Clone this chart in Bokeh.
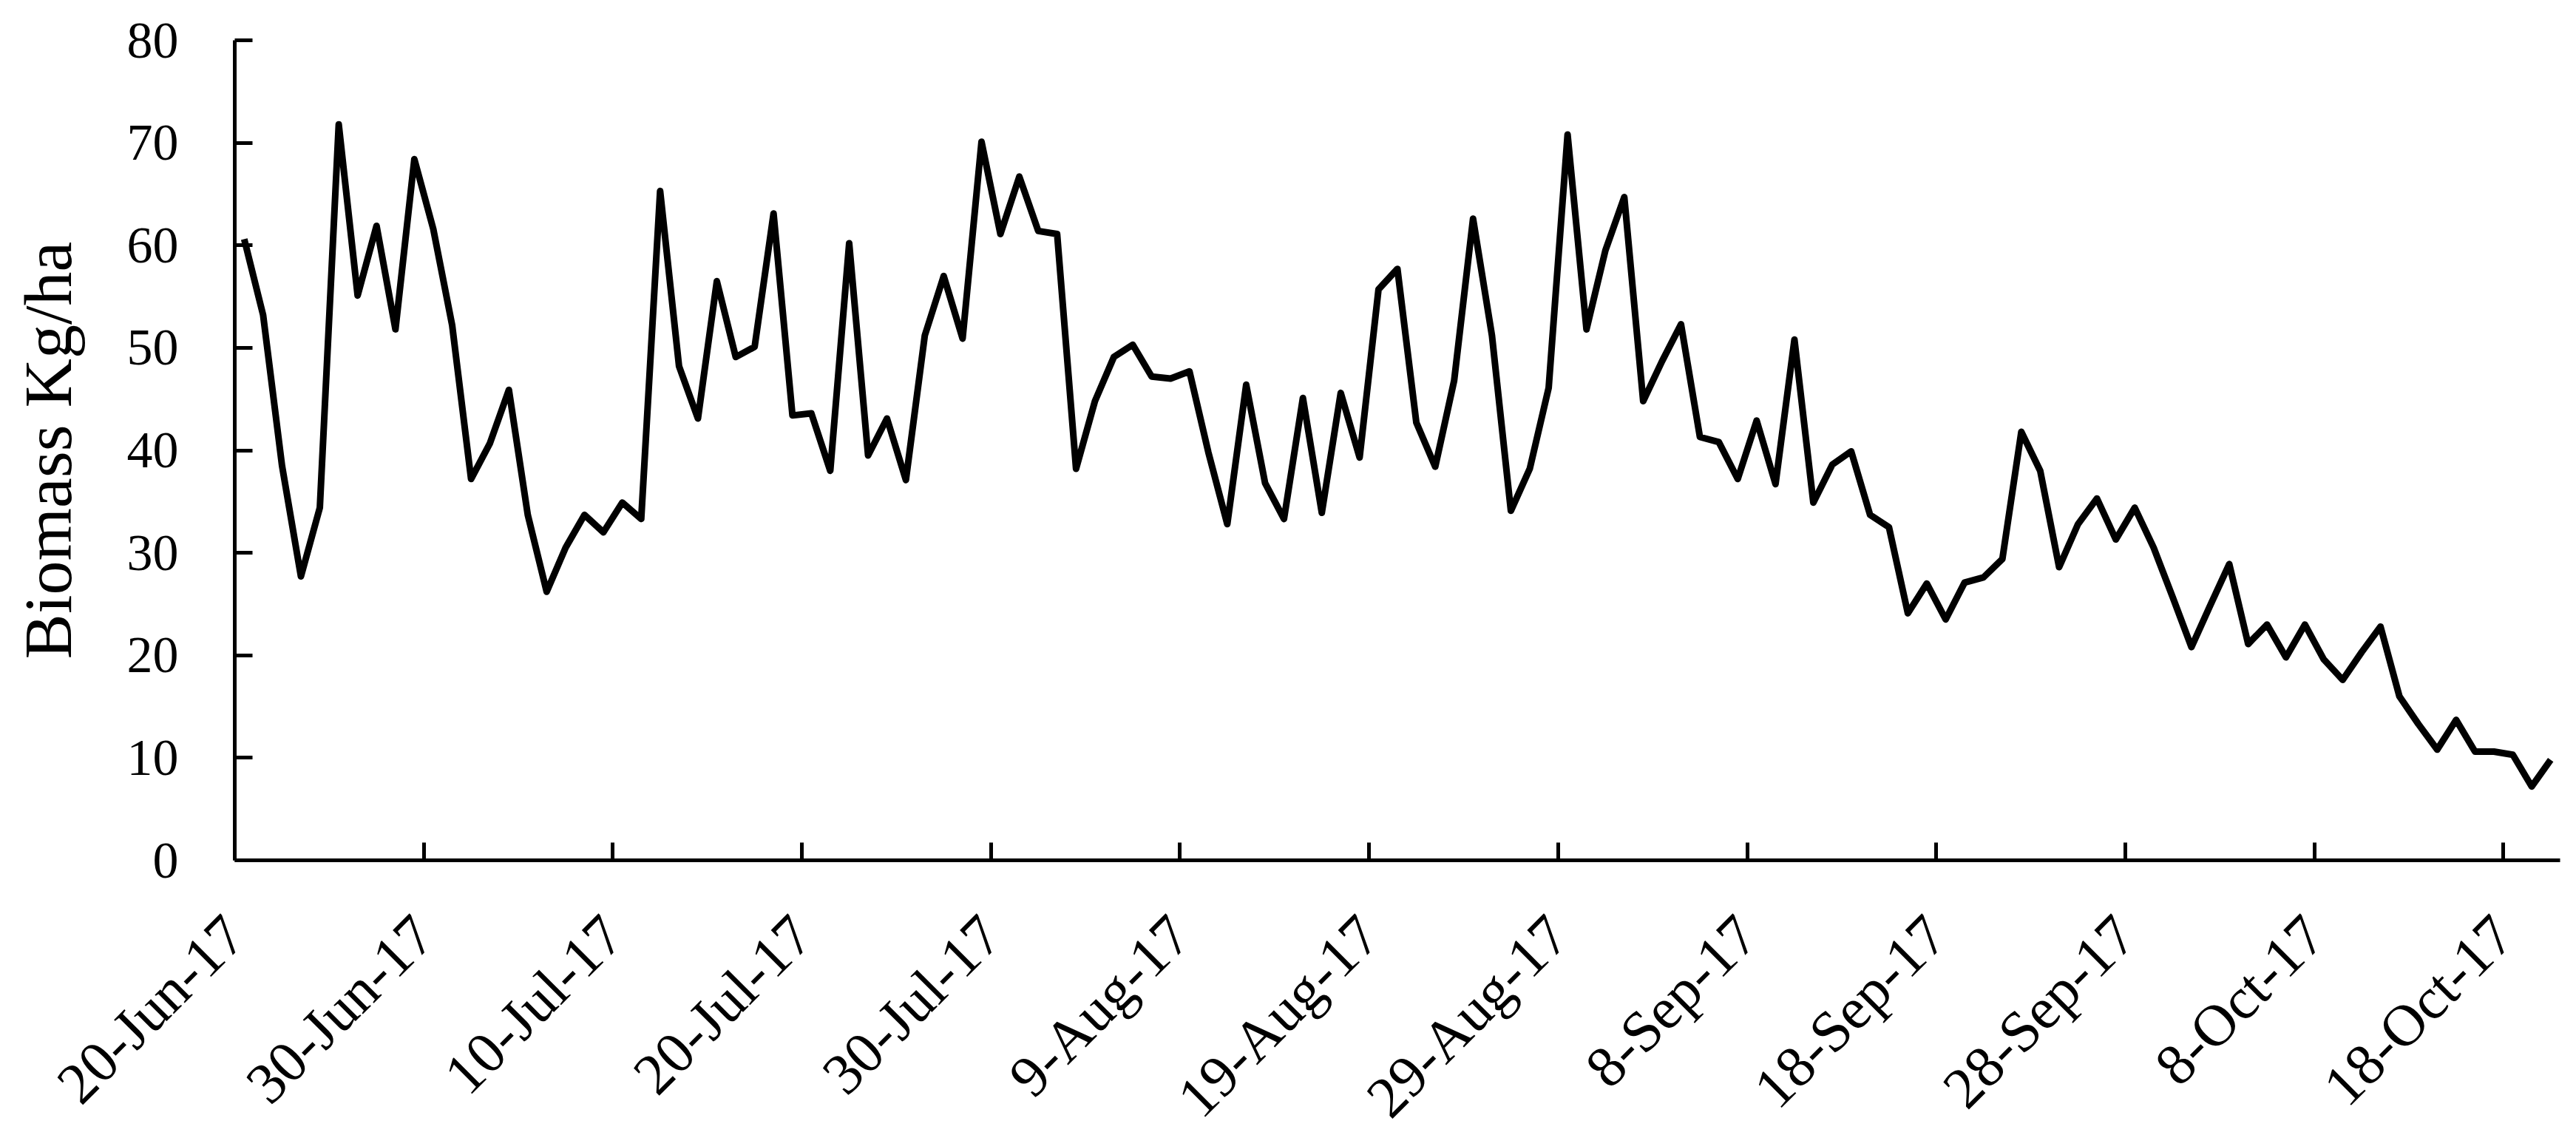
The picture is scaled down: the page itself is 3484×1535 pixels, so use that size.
import pandas as pd
from bokeh.plotting import figure
from bokeh.models import FixedTicker, Range1d, ColumnDataSource
from bokeh.embed import file_html
from bokeh.resources import INLINE

start_date = "20-Jun-17"

biomass = [
    60.6, 53.2, 38.5, 27.7, 34.4, 71.8, 55.1, 61.9, 51.8, 68.4,
    61.6, 52.2, 37.2, 40.7, 45.9, 33.7, 26.2, 30.5, 33.7, 32.0,
    34.9, 33.3, 65.3, 48.2, 43.1, 56.5, 49.1, 50.1, 63.1, 43.4,
    43.6, 38.0, 60.2, 39.5, 43.1, 37.1, 51.2, 57.0, 50.9, 70.1,
    61.1, 66.7, 61.4, 61.1, 38.2, 44.8, 49.1, 50.3, 47.2, 47.0,
    47.7, 39.8, 32.8, 46.4, 36.8, 33.3, 45.1, 33.9, 45.6, 39.3,
    55.7, 57.7, 42.7, 38.4, 46.8, 62.6, 51.2, 34.1, 38.2, 46.1,
    70.8, 51.8, 59.5, 64.7, 44.8, 48.7, 52.3, 41.3, 40.8, 37.2,
    42.9, 36.7, 50.8, 34.9, 38.6, 39.9, 33.7, 32.5, 24.1, 27.0,
    23.5, 27.1, 27.6, 29.4, 41.8, 38.0, 28.6, 32.8, 35.3, 31.3,
    34.4, 30.5, 25.7, 20.8, 24.9, 28.9, 21.1, 23.0, 19.8, 23.0,
    19.6, 17.6, 20.3, 22.8, 16.0, 13.3, 10.8, 13.7, 10.6, 10.6,
    10.3, 7.2, 9.8,
]

tick_labels = ["20-Jun-17", "30-Jun-17", "10-Jul-17", "20-Jul-17", "30-Jul-17",
               "9-Aug-17", "19-Aug-17", "29-Aug-17", "8-Sep-17", "18-Sep-17",
               "28-Sep-17", "8-Oct-17", "18-Oct-17"]

y_ticks = [0, 10, 20, 30, 40, 50, 60, 70, 80]

t0 = pd.to_datetime(start_date, format="%d-%b-%y")
dates = pd.date_range(t0, periods=len(biomass), freq="D")
# each day occupies one category slot; the point sits in the middle of its slot
xpos = [(d - t0).days + 0.5 for d in dates]
tick_pos = [(pd.to_datetime(t, format="%d-%b-%y") - t0).days for t in tick_labels]

src = ColumnDataSource(dict(x=xpos, y=biomass))

FONT = "Liberation Serif"

p = figure(frame_width=3145, frame_height=1109,
           min_border_left=317, min_border_top=54, min_border_right=14, min_border_bottom=340,
           x_range=Range1d(0, len(biomass)), y_range=Range1d(0, 80),
           output_backend="svg", toolbar_location=None)

p.line("x", "y", source=src, line_color="black", line_width=9, line_join="round")

p.xgrid.visible = False
p.ygrid.visible = False
p.outline_line_color = None
p.background_fill_color = "white"
p.border_fill_color = "white"

xa = p.xaxis[0]
xa.ticker = FixedTicker(ticks=tick_pos)
xa.major_label_overrides = {tp: lab for tp, lab in zip(tick_pos, tick_labels)}
xa.major_label_orientation = 0.785398
xa.major_label_text_font = FONT
xa.major_label_text_font_size = "79px"
xa.major_label_text_color = "black"
xa.major_label_standoff = 88
xa.axis_line_width = 5
xa.axis_line_color = "black"
xa.major_tick_line_width = 5
xa.major_tick_line_color = "black"
xa.major_tick_in = 24
xa.major_tick_out = 0
xa.minor_tick_line_color = None

ya = p.yaxis[0]
ya.ticker = FixedTicker(ticks=y_ticks)
ya.major_label_text_font = FONT
ya.major_label_text_font_size = "70px"
ya.major_label_text_color = "black"
ya.major_label_standoff = 76
ya.axis_line_width = 5
ya.axis_line_color = "black"
ya.major_tick_line_width = 5
ya.major_tick_line_color = "black"
ya.major_tick_in = 24
ya.major_tick_out = 0
ya.minor_tick_line_color = None
ya.axis_label = "Biomass Kg/ha"
ya.axis_label_text_font = FONT
ya.axis_label_text_font_size = "92px"
ya.axis_label_text_font_style = "normal"
ya.axis_label_text_color = "black"
ya.axis_label_standoff = 53

open("out.html", "w").write(file_html(p, INLINE))
